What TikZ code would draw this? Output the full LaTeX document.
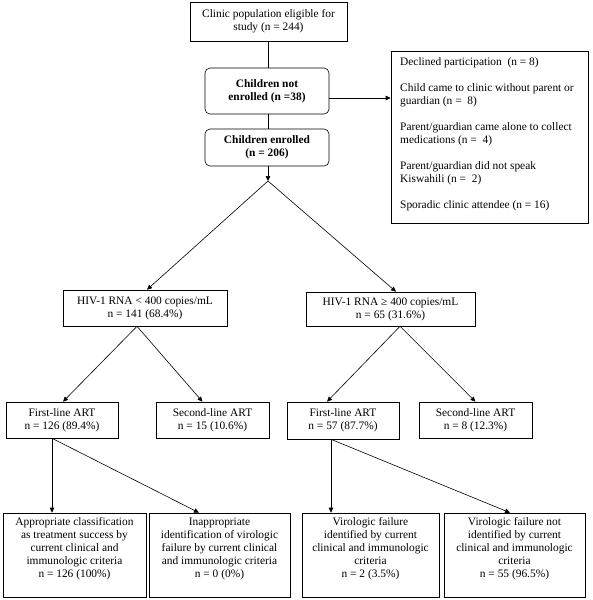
\documentclass[tikz,border=0pt]{standalone}
\usepackage{fontspec}
\setmainfont{Liberation Serif}
\usetikzlibrary{arrows.meta,calc,positioning}
\begin{document}
\begin{tikzpicture}[x=1pt,y=-1pt,
  every node/.style={font=\fontsize{11.4}{13}\selectfont},
  box/.style={draw, line width=0.6pt, inner sep=0pt, align=center},
  rbox/.style={box, rounded corners=5pt, font=\fontsize{11.4}{13}\selectfont\bfseries},
  txt/.style={inner sep=0pt, align=center},
  conn/.style={line width=0.6pt},
  arr/.style={conn, -{Triangle[length=5pt,width=4.5pt]}}]
\useasboundingbox (0,0) rectangle (592,600);
% top part
\node[box, minimum width=157pt, minimum height=39pt] (top) at (268.5,21.5) {Clinic population eligible for\\study (n = 244)};
\node[rbox, minimum width=124pt, minimum height=46pt] (notenr) at (267,91) {Children not\\enrolled (n =38)};
\node[rbox, minimum width=124pt, minimum height=37pt] (enr) at (267,147.5) {Children enrolled\\(n = 206)};
\node[box, minimum width=197pt, minimum height=172pt] (rl) at (489.5,137) {};
\node[inner sep=0pt, align=left, anchor=north west] (rlt) at (400,57) {Declined participation\ \ (n = 8)\\[13pt]
Child came to clinic without parent or\\guardian (n =\ \ 8)\\[13pt]
Parent/guardian came alone to collect\\medications (n =\ \ 4)\\[13pt]
Parent/guardian did not speak\\Kiswahili (n =\ \ 2)\\[13pt]
Sporadic clinic attendee (n = 16)};
\coordinate (split) at (268,181);
\draw[conn] (top.south) -- (top.south |- notenr.north);
\draw[conn] (notenr.south -| split) -- (enr.north -| split);
\draw[arr] (enr.south -| split) -- (split);
\coordinate (ae) at ($(notenr.east)+(0,7)$);
\draw[arr] (ae) -- (ae -| rl.west);
% HIV row
\node[box, minimum width=164pt, minimum height=36pt] (hivL) at (145,308) {HIV-1 RNA < 400 copies/mL\\n = 141 (68.4\%)};
\node[box, minimum width=169pt, minimum height=34pt] (hivR) at (390.5,309) {HIV-1 RNA ≥ 400 copies/mL\\n = 65 (31.6\%)};
\draw[arr] (split) -- ($(hivL.north)+(2,0)$);
\draw[arr] (split) -- ($(hivR.north)+(5.5,0)$);
% second row
\node[box, minimum width=112pt, minimum height=36pt] (flL) at (62,420) {First-line ART\\n = 126 (89.4\%)};
\node[box, minimum width=113pt, minimum height=36pt] (slL) at (212.5,420) {Second-line ART\\n = 15 (10.6\%)};
\node[box, minimum width=112pt, minimum height=37pt] (flR) at (343,420.5) {First-line ART\\n = 57 (87.7\%)};
\node[box, minimum width=113pt, minimum height=36pt] (slR) at (475.5,420) {Second-line ART\\n = 8 (12.3\%)};
\coordinate (hl) at ($(hivL.south)+(-8,0)$);
\draw[arr] (hl) -- ($(flL.north)+(1,0)$);
\draw[arr] (hl) -- ($(slL.north)+(-10,0)$);
\coordinate (hr) at ($(hivR.south)+(9.5,0)$);
\draw[arr] (hr) -- ($(flR.north)+(-16,0)$);
\draw[arr] (hr) -- (slR.north);
% third row
\node[box, minimum width=143pt, minimum height=84pt] (b1) at (74.5,555) {};
\node[box, minimum width=141pt, minimum height=84pt] (b2) at (219.5,555) {};
\node[box, minimum width=137pt, minimum height=84pt] (b3) at (370.5,555) {};
\node[box, minimum width=141pt, minimum height=84pt] (b4) at (514.5,555) {};
\node[txt, anchor=north] (b1t) at ($(b1.north)+(0,5)$) {Appropriate classification\\as treatment success by\\current clinical and\\immunologic criteria\\n = 126 (100\%)};
\node[txt, anchor=north] (b2t) at ($(b2.north)+(0,5)$) {Inappropriate\\identification of virologic\\failure by current clinical\\and immunologic criteria\\n = 0 (0\%)};
\node[txt, anchor=north] (b3t) at ($(b3.north)+(0,5)$) {Virologic failure\\identified by current\\clinical and immunologic\\criteria\\n = 2 (3.5\%)};
\node[txt, anchor=north] (b4t) at ($(b4.north)+(0,5)$) {Virologic failure not\\identified by current\\clinical and immunologic\\criteria\\n = 55 (96.5\%)};
\coordinate (fl) at ($(flL.south)+(-10,0)$);
\draw[arr] (fl) -- (fl |- b1.north);
\draw[arr] (fl) -- ($(b2.north)+(-20.5,0)$);
\coordinate (fr) at ($(flR.south)+(-12,0)$);
\draw[arr] (fr) -- (fr |- b3.north);
\draw[arr] (fr) -- ($(b4.north)+(-4.5,0)$);
\end{tikzpicture}
\end{document}
